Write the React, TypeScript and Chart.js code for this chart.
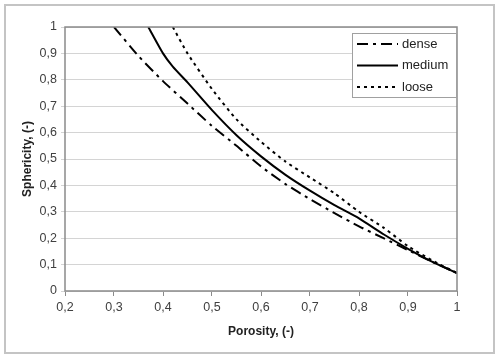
import React, { useEffect, useRef } from "react";
import { Chart, registerables } from "chart.js";

Chart.register(...registerables);

const seriesNames = ["dense", "medium", "loose"];

const densePorosity = [0.3, 0.35, 0.4, 0.45, 0.5, 0.55, 0.6, 0.65, 0.7, 0.75, 0.8, 0.85, 0.9, 0.95, 1.0];
const denseSphericity = [1.0, 0.89, 0.795, 0.71, 0.625, 0.55, 0.472, 0.405, 0.348, 0.295, 0.245, 0.2, 0.155, 0.11, 0.068];

const mediumPorosity = [0.37, 0.4, 0.42, 0.45, 0.5, 0.55, 0.6, 0.65, 0.7, 0.75, 0.8, 0.85, 0.9, 0.95, 1.0];
const mediumSphericity = [1.0, 0.9, 0.85, 0.79, 0.685, 0.59, 0.51, 0.44, 0.38, 0.325, 0.275, 0.215, 0.16, 0.11, 0.068];

const loosePorosity = [0.42, 0.45, 0.5, 0.55, 0.6, 0.65, 0.7, 0.75, 0.8, 0.85, 0.9, 0.95, 1.0];
const looseSphericity = [1.0, 0.9, 0.765, 0.65, 0.565, 0.49, 0.43, 0.37, 0.3, 0.24, 0.17, 0.115, 0.068];

const xTickValues = [0.2, 0.3, 0.4, 0.5, 0.6, 0.7, 0.8, 0.9, 1.0];
const yTickValues = [0, 0.1, 0.2, 0.3, 0.4, 0.5, 0.6, 0.7, 0.8, 0.9, 1.0];

const fmt = (v: number) => {
  const r = Math.round(v * 10) / 10;
  return String(r).replace(".", ",");
};

const toPts = (xs: number[], ys: number[]) => xs.map((x, i) => ({ x, y: ys[i] }));

const framePlugin = {
  id: "frameAndLegend",
  beforeDraw(chart: any) {
    const ctx = chart.ctx;
    ctx.save();
    ctx.fillStyle = "#ffffff";
    ctx.fillRect(0, 0, chart.width, chart.height);
    ctx.strokeStyle = "#c4c4c4";
    ctx.lineWidth = 2;
    ctx.strokeRect(5, 5, 489, 348);
    ctx.restore();
  },
  afterDatasetsDraw(chart: any) {
    const ctx = chart.ctx;
    const a = chart.chartArea;
    ctx.save();
    ctx.strokeStyle = "#8a8a8a";
    ctx.lineWidth = 1.5;
    ctx.strokeRect(a.left, a.top, a.right - a.left, a.bottom - a.top);

    // legend box
    const bx = a.right - 105;
    const by = a.top + 6;
    const bw = 104;
    const bh = 64;
    ctx.fillStyle = "#ffffff";
    ctx.fillRect(bx, by, bw, bh);
    ctx.strokeStyle = "#a0a0a0";
    ctx.lineWidth = 1;
    ctx.strokeRect(bx + 0.5, by + 0.5, bw, bh);
    ctx.font = "13px 'Liberation Sans', Arial, sans-serif";
    ctx.textBaseline = "middle";
    ctx.textAlign = "left";
    chart.data.datasets.forEach((ds: any, i: number) => {
      const yy = by + 11 + i * 21.5;
      ctx.beginPath();
      ctx.setLineDash(ds.borderDash || []);
      ctx.strokeStyle = "#000000";
      ctx.lineWidth = ds.borderWidth;
      ctx.moveTo(bx + 5, yy);
      ctx.lineTo(bx + 46, yy);
      ctx.stroke();
      ctx.setLineDash([]);
      ctx.fillStyle = "#222222";
      ctx.fillText(ds.label, bx + 50, yy);
    });
    ctx.restore();
  },
};

export default function App() {
  const ref = useRef<HTMLCanvasElement | null>(null);
  useEffect(() => {
    if (!ref.current) return;
    const chart = new Chart(ref.current, {
      type: "scatter",
      data: {
        datasets: [
          {
            label: seriesNames[0],
            data: toPts(densePorosity, denseSphericity),
            showLine: true,
            borderColor: "#000000",
            borderWidth: 2,
            borderDash: [11, 5, 3, 5],
            pointRadius: 0,
            tension: 0.2,
          },
          {
            label: seriesNames[1],
            data: toPts(mediumPorosity, mediumSphericity),
            showLine: true,
            borderColor: "#000000",
            borderWidth: 2,
            pointRadius: 0,
            tension: 0.2,
          },
          {
            label: seriesNames[2],
            data: toPts(loosePorosity, looseSphericity),
            showLine: true,
            borderColor: "#000000",
            borderWidth: 2,
            borderDash: [3, 4],
            pointRadius: 0,
            tension: 0.2,
          },
        ],
      },
      options: {
        animation: false,
        responsive: false,
        layout: { padding: { top: 27, right: 43, bottom: 0, left: 0 } },
        plugins: { legend: { display: false }, tooltip: { enabled: false } },
        scales: {
          x: {
            type: "linear",
            min: 0.2,
            max: 1,
            afterBuildTicks: (s: any) => {
              s.ticks = xTickValues.map((v) => ({ value: v }));
            },
            afterFit: (s: any) => {
              s.height = 68;
            },
            ticks: {
              callback: (v: any) => fmt(Number(v)),
              color: "#404040",
              font: { size: 12.5, family: "'Liberation Sans', Arial, sans-serif" },
              padding: 4,
              maxRotation: 0,
            },
            grid: { drawOnChartArea: false, tickLength: 5, color: "#8a8a8a" },
            border: { display: false },
            title: {
              display: true,
              text: "Porosity, (-)",
              color: "#222222",
              font: { size: 12, weight: "bold", family: "'Liberation Sans', Arial, sans-serif" },
              padding: { top: 0, bottom: 20 },
            },
          },
          y: {
            type: "linear",
            min: 0,
            max: 1,
            afterBuildTicks: (s: any) => {
              s.ticks = yTickValues.map((v) => ({ value: v }));
            },
            afterFit: (s: any) => {
              s.width = 65;
            },
            ticks: {
              callback: (v: any) => fmt(Number(v)),
              color: "#404040",
              font: { size: 12.5, family: "'Liberation Sans', Arial, sans-serif" },
              padding: 4,
            },
            grid: { color: "#d4d4d4", lineWidth: 1, tickLength: 4 },
            border: { display: false },
            title: {
              display: true,
              text: "Sphericity, (-)",
              color: "#222222",
              font: { size: 12, weight: "bold", family: "'Liberation Sans', Arial, sans-serif" },
              padding: { top: 20, bottom: 0 },
            },
          },
        },
      },
      plugins: [framePlugin],
    } as any);
    return () => chart.destroy();
  }, []);
  return (
    <div style={{ position: "fixed", left: 0, top: 0, width: 500, height: 359 }}>
      <canvas ref={ref} width={500} height={359} style={{ width: 500, height: 359, display: "block" }} />
    </div>
  );
}
